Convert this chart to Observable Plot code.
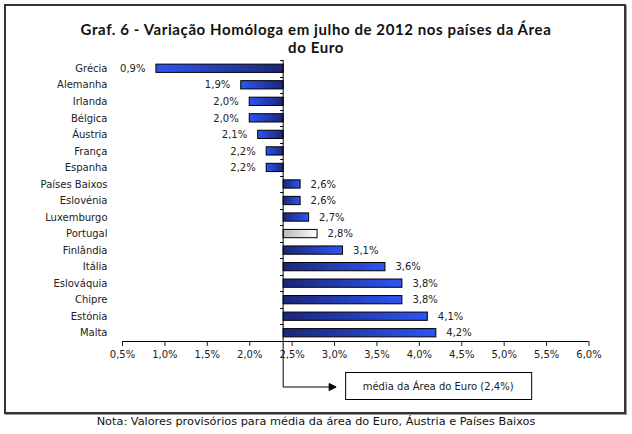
<!DOCTYPE html>
<html>
<head>
<meta charset="utf-8">
<script src="https://cdn.jsdelivr.net/npm/d3@7"></script>
<script src="https://cdn.jsdelivr.net/npm/@observablehq/plot@0.6"></script>
<style>
  html, body { margin: 0; padding: 0; background: #fff; }
  #wrap { position: relative; width: 632px; height: 434px; overflow: hidden; }
  #frame { position: absolute; left: 4px; top: 4px; width: 618px; height: 406px;
           border: 2px solid #333; box-shadow: 1px 1px 0 #999; pointer-events: none; }
  #title { position: absolute; left: 0; top: 20px; width: 632px; text-align: center;
           font-family: Lato, "Open Sans", sans-serif; font-weight: bold; font-size: 15px;
           letter-spacing: 0.6px; line-height: 18px; color: #111; }
  #chart { position: absolute; left: 0; top: 52px; }
  #note { position: absolute; left: 0; top: 415px; width: 632px; text-align: center;
          font-family: "DejaVu Sans", sans-serif; font-size: 11.3px; color: #111; }
</style>
</head>
<body>
<div id="wrap">
  <div id="title">Graf. 6 - Variação Homóloga em julho de 2012 nos países da Área<br>do Euro</div>
  <div id="chart"></div>
  <div id="frame"></div>
  <div id="note">Nota: Valores provisórios para média da área do Euro, Áustria e Países Baixos</div>
</div>
<script>
const countries = ["Grécia","Alemanha","Irlanda","Bélgica","Áustria","França","Espanha","Países Baixos","Eslovénia","Luxemburgo","Portugal","Finlândia","Itália","Eslováquia","Chipre","Estónia","Malta"];
const values = [0.9,1.9,2.0,2.0,2.1,2.2,2.2,2.6,2.6,2.7,2.8,3.1,3.6,3.8,3.8,4.1,4.2];
const euroAverage = 2.4;
const xTicks = [0.5,1.0,1.5,2.0,2.5,3.0,3.5,4.0,4.5,5.0,5.5,6.0];
const averageLabel = "média da Área do Euro (2,4%)";

const data = countries.map((name, i) => ({name, value: values[i]}));
const fmt = v => v.toFixed(1).replace(".", ",") + "%";
const NS = "http://www.w3.org/2000/svg";
const el = (tag, attrs) => { const e = document.createElementNS(NS, tag); for (const k in attrs) e.setAttribute(k, attrs[k]); return e; };

function defs() {
  const d = el("defs", {});
  const mk = (id, x1, x2, c1, c2) => {
    const g = el("linearGradient", {id, x1, y1: 0, x2, y2: 0});
    g.appendChild(el("stop", {offset: "0%", "stop-color": c1}));
    g.appendChild(el("stop", {offset: "100%", "stop-color": c2}));
    d.appendChild(g);
  };
  mk("gradR", 0, 1, "#1b2678", "#2c55f5");
  mk("gradL", 1, 0, "#1b2678", "#2c55f5");
  mk("gradP", 0, 1, "#b8b8b8", "#ffffff");
  return d;
}

function axes(index, scales, values, dim) {
  const g = el("g", {fill: "none", stroke: "#000", "stroke-width": 1});
  const x = scales.x, y = scales.y;
  const x0 = x(euroAverage);
  const y0 = y(countries[0]), yN = y(countries[countries.length - 1]);
  const step = (yN - y0) / (countries.length - 1);
  const bw = step * 0.5;
  const top = y0 + bw / 2 - step / 2;
  const bottom = dim.height - dim.marginBottom;
  g.appendChild(el("line", {x1: dim.marginLeft, x2: dim.width - dim.marginRight, y1: bottom + 0.5, y2: bottom + 0.5}));
  for (let i = 0; i <= countries.length; i++) {
    const yy = Math.round(top + i * step) + 0.5;
    g.appendChild(el("line", {x1: x0 - 3, x2: x0, y1: yy, y2: yy}));
  }
  const ay = bottom + 46;
  g.appendChild(el("path", {d: `M${x0},${top}V${ay}H${x0 + 46}`}));
  g.appendChild(el("path", {d: `M${x0 + 46},${ay - 3.5}L${x0 + 53},${ay}L${x0 + 46},${ay + 3.5}Z`, fill: "#000"}));
  const bx = x0 + 62, bwid = 186, by = ay - 15, bh = 27;
  g.appendChild(el("rect", {x: bx + 0.5, y: by + 0.5, width: bwid, height: bh, fill: "#fff", stroke: "#000"}));
  const t = el("text", {x: bx + bwid / 2, y: by + bh / 2 + 1, "text-anchor": "middle", "dominant-baseline": "middle",
    fill: "#222", stroke: "none", "font-size": 10, "font-family": "DejaVu Sans, sans-serif"});
  t.textContent = averageLabel;
  g.appendChild(t);
  return g;
}

const chart = Plot.plot({
  width: 632,
  height: 360,
  marginLeft: 122,
  marginRight: 43.5,
  marginTop: 8,
  marginBottom: 71,
  style: {fontFamily: "DejaVu Sans, sans-serif", fontSize: "10px", color: "#222", background: "transparent"},
  x: {domain: [0.5, 6.0], ticks: xTicks, tickFormat: fmt, tickSize: 5, tickPadding: 4, label: null},
  y: {domain: countries, paddingInner: 0.5, paddingOuter: 0.25, round: false, tickSize: 0, tickPadding: 15, label: null},
  marks: [
    defs,
    Plot.barX(data.filter(d => d.value < euroAverage), {x1: euroAverage, x2: "value", y: "name", fill: "url(#gradL)", stroke: "#000", strokeWidth: 1}),
    Plot.barX(data.filter(d => d.value >= euroAverage && d.name !== "Portugal"), {x1: euroAverage, x2: "value", y: "name", fill: "url(#gradR)", stroke: "#000", strokeWidth: 1}),
    Plot.barX(data.filter(d => d.name === "Portugal"), {x1: euroAverage, x2: "value", y: "name", fill: "url(#gradP)", stroke: "#000", strokeWidth: 1}),
    Plot.text(data.filter(d => d.value < euroAverage), {x: "value", y: "name", text: d => fmt(d.value), textAnchor: "end", dx: -11, fill: "#222"}),
    Plot.text(data.filter(d => d.value >= euroAverage), {x: "value", y: "name", text: d => fmt(d.value), textAnchor: "start", dx: 10, fill: "#222"}),
    axes
  ]
});
document.getElementById("chart").appendChild(chart);
</script>
</body>
</html>
